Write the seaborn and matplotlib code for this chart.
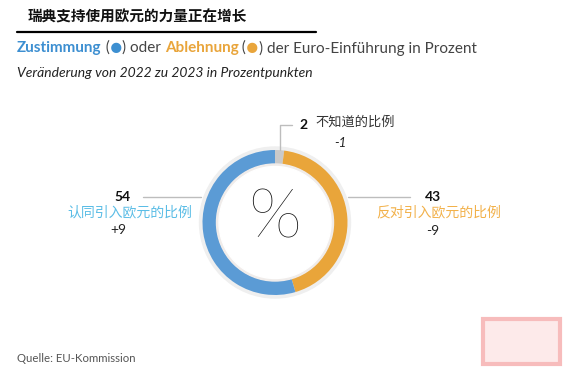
import matplotlib
matplotlib.use("Agg")
import matplotlib.pyplot as plt
import seaborn as sb
from matplotlib.patches import Circle, Rectangle

# Data
labels = ["不知道的比例", "反对引入欧元的比例", "认同引入欧元的比例"]
shares = [2, 43, 54]
changes = ["-1", "-9", "+9"]
ring_colors = ["#c9c9c9", "#e9a53a", "#5b9bd5"]

title = "瑞典支持使用欧元的力量正在增长"
subtitle_parts = [("Zustimmung", "#3d8fd1", "bold", 11), (" (", "#444444", "normal", 11),
                  ("●", "#3d8fd1", "normal", 15), (") oder ", "#444444", "normal", 11),
                  ("Ablehnung", "#e9a53b", "bold", 11), (" (", "#444444", "normal", 11),
                  ("●", "#e9a53b", "normal", 15),
                  (") der Euro-Einführung in Prozent", "#444444", "normal", 11)]
note = "Veränderung von 2022 zu 2023 in Prozentpunkten"
source = "Quelle: EU-Kommission"

W, H = 567, 369
sb.set_theme(style="white")
LAT = ["Lato", "DejaVu Sans", "Noto Sans CJK SC"]
CJK = ["Noto Sans CJK SC", "DejaVu Sans"]
plt.rcParams["font.family"] = LAT

fig = plt.figure(figsize=(W / 100, H / 100), dpi=100)
ax = fig.add_axes([0, 0, 1, 1])


def Y(y):
    # pixel row from top -> data y
    return H - y


# donut
cx, cy, r = 275, Y(222.5), 72.5
ax.add_patch(Circle((cx, cy), r + 3, color="#efefef", zorder=1))
ax.pie(shares, colors=ring_colors, startangle=90, counterclock=False,
       center=(cx, cy), radius=r, frame=True,
       wedgeprops=dict(width=14, linewidth=0))
ax.add_patch(Circle((cx, cy), r - 14, color="#f0ecea", zorder=3))
ax.add_patch(Circle((cx, cy), r - 16.5, color="white", zorder=4))
ax.set_xlim(0, W)
ax.set_ylim(0, H)
ax.set_aspect("equal")
ax.axis("off")
ax.text(cx, Y(219), "%", fontsize=50, fontweight=100, color="#111111",
        ha="center", va="center", zorder=5)

# title + rule
ax.text(28, Y(17), title, family=CJK, fontsize=10.5, fontweight="bold",
        color="#111111", va="center", ha="left")
ax.plot([17, 316], [Y(32), Y(32)], color="black", lw=1.6)

# subtitle in coloured pieces
renderer = fig.canvas.get_renderer()
x = 17
for txt, col, wt, fs in subtitle_parts:
    t = ax.text(x, Y(48), txt, fontsize=fs, color=col, fontweight=wt,
                va="center", ha="left")
    bb = t.get_window_extent(renderer=renderer)
    x += bb.width

ax.text(17, Y(73), note, fontsize=10, style="italic", color="#222222",
        va="center", ha="left")

# leader lines
lc = "#bdbdbd"
ax.plot([280, 280, 292], [Y(150), Y(125), Y(125)], color=lc, lw=1)
ax.plot([143, 201], [Y(197), Y(197)], color=lc, lw=1)
ax.plot([348, 410], [Y(197), Y(197)], color=lc, lw=1)

# top label (don't know)
ax.text(304, Y(125), str(shares[0]), fontsize=10, fontweight="bold",
        color="#111111", ha="center", va="center")
ax.text(315, Y(122), labels[0], family=CJK, fontsize=9.5, color="#333333",
        ha="left", va="center")
ax.text(340, Y(143), changes[0], fontsize=9.5, style="italic",
        color="#222222", ha="center", va="center")

# left label (support)
ax.text(123, Y(197), str(shares[2]), fontsize=10, fontweight="bold",
        color="#111111", ha="center", va="center")
ax.text(130, Y(212), labels[2], family=CJK, fontsize=10, color="#5bbde6",
        ha="center", va="center")
ax.text(118, Y(230), changes[2], fontsize=10, color="#222222",
        ha="center", va="center")

# right label (against)
ax.text(433, Y(197), str(shares[1]), fontsize=10, fontweight="bold",
        color="#111111", ha="center", va="center")
ax.text(439, Y(212), labels[1], family=CJK, fontsize=10, color="#f2b14a",
        ha="center", va="center")
ax.text(433, Y(231), changes[1], fontsize=10, color="#222222",
        ha="center", va="center")

ax.text(17, Y(358), source, fontsize=8.2, color="#555555",
        ha="left", va="center")

# watermark seal box
ax.add_patch(Rectangle((483, Y(364)), 77, 45, facecolor="#fdeaea",
                       edgecolor="#f7bcbc", lw=3))

fig.savefig("out.png", dpi=100)
